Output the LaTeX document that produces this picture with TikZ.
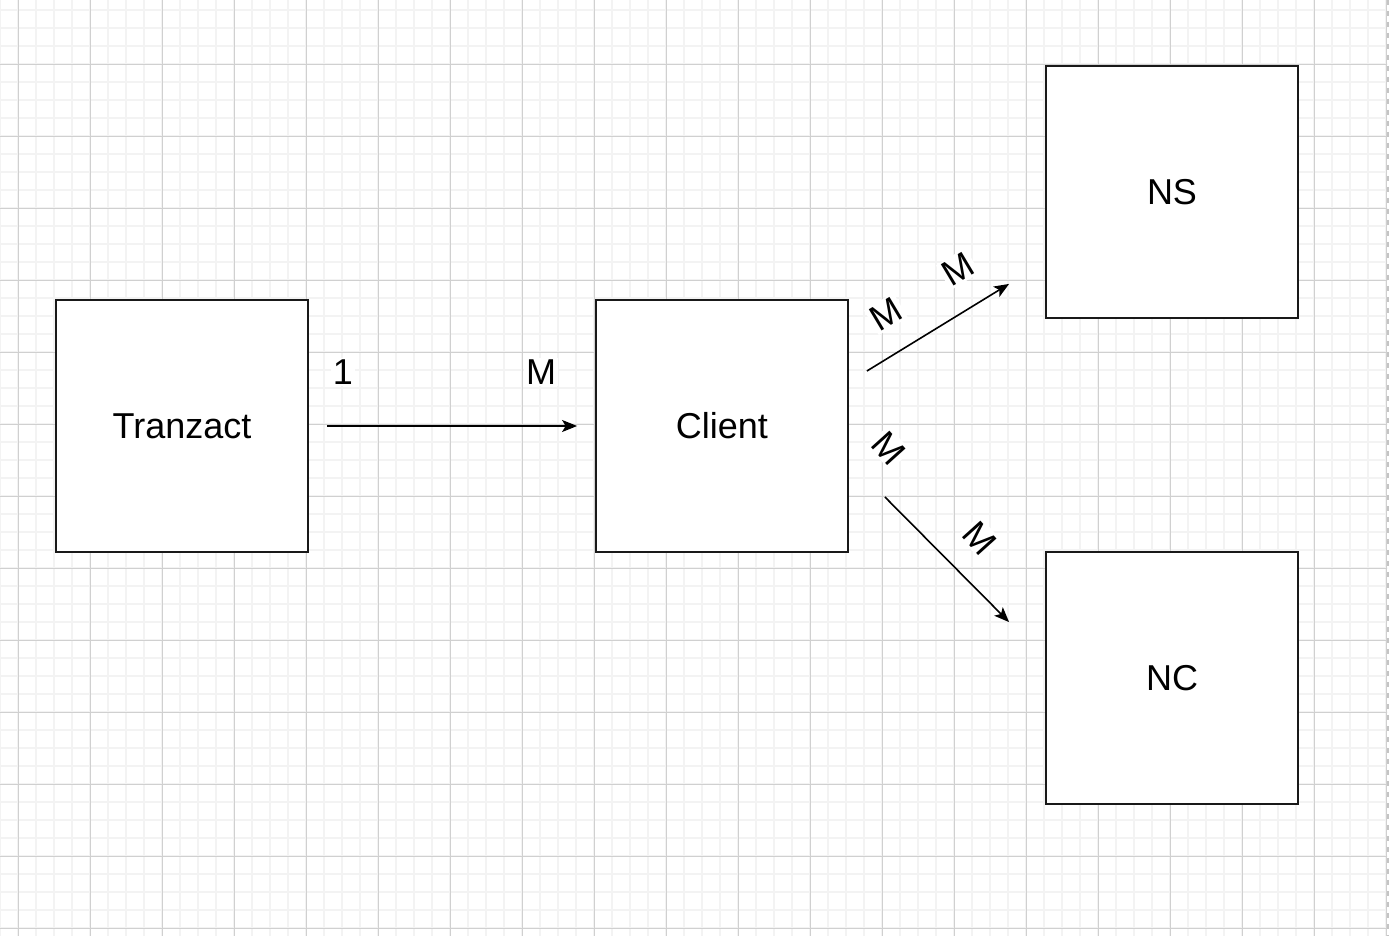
\documentclass[tikz,border=0pt]{standalone}
\usepackage{fontspec}
\setmainfont{Liberation Sans}
\usetikzlibrary{arrows.meta,positioning}

\definecolor{minorgrid}{HTML}{F3F3F3}
\definecolor{majorgrid}{HTML}{D0D0D0}
\definecolor{pageedge}{HTML}{C4C4C4}

\tikzset{
  entity/.style={draw=black!90, line width=1.8pt, fill=white,
    minimum width=252pt, minimum height=252pt, inner sep=0pt,
    font=\fontsize{36}{43}\selectfont},
  link/.style={->, line width=1.6pt},
  mult/.style={fill=white, inner sep=2pt, font=\fontsize{36}{43}\selectfont}
}

\begin{document}
\begin{tikzpicture}[x=1pt, y=-1pt, >={Stealth[length=15pt,width=12pt,inset=3.5pt]}]
  \useasboundingbox (0,0) rectangle (1390,936);
  % grid
  \begin{scope}
    \clip (0,0) rectangle (1387,936);
    \foreach \x in {0,18,...,1386} \draw [minorgrid, line width=1.6pt] (\x,0) -- (\x,936);
    \foreach \y in {10,28,...,935} \draw [minorgrid, line width=1.6pt] (0,\y) -- (1390,\y);
    \foreach \x in {18,90,...,1386} \draw [majorgrid, line width=0.9pt] (\x,0) -- (\x,936);
    \foreach \y in {64,136,...,935} \draw [majorgrid, line width=0.9pt] (0,\y) -- (1390,\y);
  \end{scope}
  \draw [pageedge, line width=1.8pt, dash pattern=on 5pt off 6pt] (1388,0) -- (1388,936);

  % entities
  \node [entity] (tranzact) at (182,426) {Tranzact};
  \node [entity] (client) at (722,426) {Client};
  \node [entity] (ns) at (1172,192) {NS};
  \node [entity] (nc) at (1172,678) {NC};

  % ends of the free arrows
  \coordinate (nsout) at ([xshift=18pt,yshift=55pt]client.east);
  \coordinate (nsin) at ([xshift=-36pt,yshift=35pt]ns.south west);
  \coordinate (ncout) at ([xshift=36pt,yshift=-71pt]client.east);
  \coordinate (ncin) at ([xshift=-36pt,yshift=-71pt]nc.north west);

  % relations
  \draw [link, shorten <=18pt, shorten >=18pt] (tranzact.east) -- (client.west);
  \draw [link] (nsout) -- (nsin);
  \draw [link] (ncout) -- (ncin);

  % multiplicities
  \node [mult] (one) at (343,372) {1};
  \node [mult] (many) at (541,372) {M};
  \node [mult, rotate=31] (nsfrom) at (886,314) {M};
  \node [mult, rotate=31] (nsto) at (958,269) {M};
  \node [mult, rotate=-48] (ncfrom) at (889,448) {M};
  \node [mult, rotate=-48] (ncto) at (980,538) {M};
\end{tikzpicture}
\end{document}
